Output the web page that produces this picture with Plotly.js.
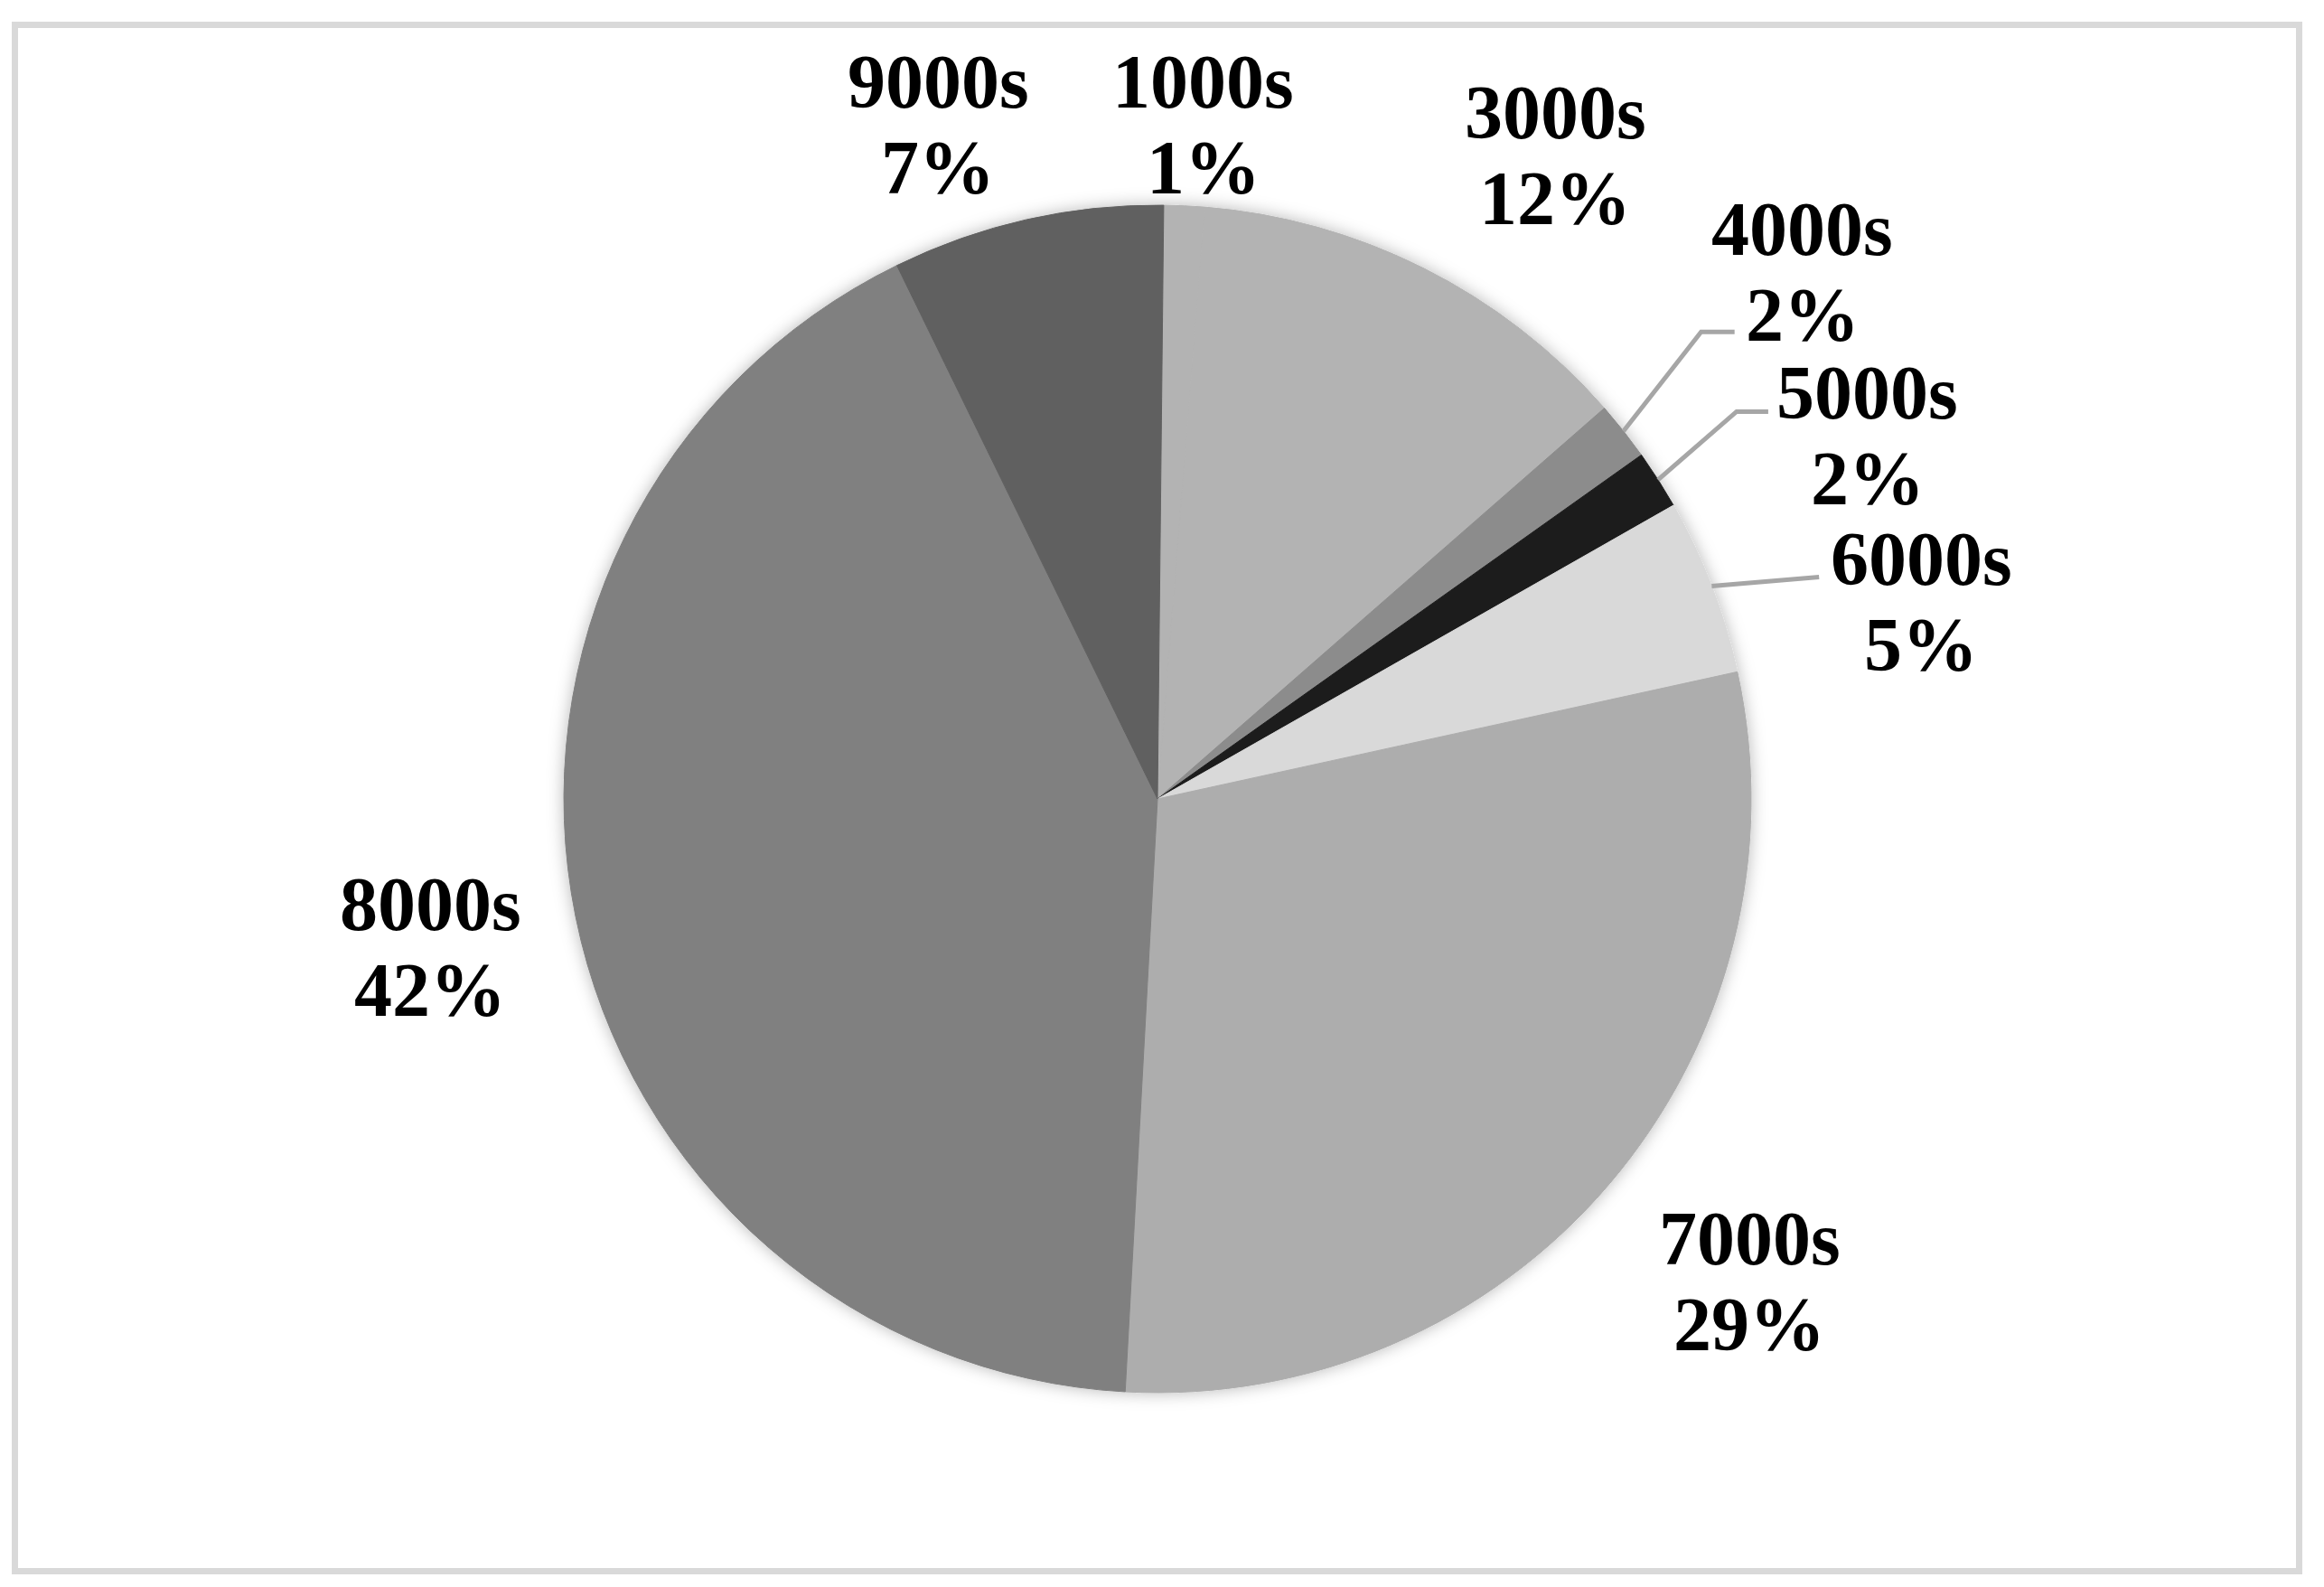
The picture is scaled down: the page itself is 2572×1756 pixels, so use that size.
<!DOCTYPE html>
<html>
<head>
<meta charset="utf-8">
<script src="https://cdn.plot.ly/plotly-3.0.1.min.js"></script>
<style>
  html, body { margin: 0; padding: 0; background: #fff; }
  #chart { width: 2572px; height: 1756px; }
</style>
</head>
<body>
<div id="chart"></div>
<script>
// data (share of total, %)
const categories = ['1000s', '3000s', '4000s', '5000s', '6000s', '7000s', '8000s', '9000s'];
const shares = [1.1, 12.3, 1.6, 1.6, 4.8, 29.3, 41.9, 7.4];

// styling
const sliceColors = ['#b3b3b3', '#b3b3b3', '#8c8c8c', '#1c1c1c', '#d9d9d9', '#adadad', '#808080', '#606060'];
const labelDist = [748, 838, 922, 883, 873, 845, 821, 785];   // px from centre
const labelNudge = [1.3, 5.0, -1.0, 5.4, 6.5, -1.2, 0, -5.3]; // deg off slice middle
const leaderIdx = [2, 3, 4];
const leaderBend = [[-112, 67], [-145, -26], [-113, -27]];    // elbow relative to label
const leaderEnd = [[-75, 67], [-110, -26], [-113, -27]];

const W = 2572, H = 1756;
const cx = 1281, cy = 884, R = 657;
const startDeg = 0.6;
const fontSize = 84;

// Centre and radius to pie domain
const dom = {
  x: [(cx - R) / W, (cx + R) / W],
  y: [1 - (cy + R) / H, 1 - (cy - R) / H]
};

function px(x) { return x / W; }
function py(y) { return 1 - y / H; }

const total = shares.reduce((a, b) => a + b, 0);
const midDeg = [];
let acc = 0;
for (let k = 0; k < shares.length; k++) {
  midDeg.push(startDeg + (acc + shares[k] / 2) / total * 360);
  acc += shares[k];
}
function polar(deg, r) {
  const a = deg * Math.PI / 180;
  return [cx + r * Math.sin(a), cy - r * Math.cos(a)];
}

const annotations = [];
const labelPos = [];
for (let k = 0; k < categories.length; k++) {
  const p = polar(midDeg[k] + labelNudge[k], labelDist[k]);
  labelPos.push(p);
  const pct = Math.round(shares[k] / total * 100) + '%';
  [[categories[k], 47], [pct, -48]].forEach(function (t) {
    annotations.push({
      text: '<b>' + t[0] + '</b>', x: px(p[0]), y: py(p[1]), xref: 'paper', yref: 'paper',
      xanchor: 'center', yanchor: 'middle', yshift: t[1], showarrow: false,
      font: { family: 'Liberation Serif, Times New Roman, serif', size: fontSize, color: '#000' }
    });
  });
}

const shapes = [{
  type: 'rect', xref: 'paper', yref: 'paper',
  x0: px(16.5), x1: px(2544.5), y0: py(1738.5), y1: py(27.5),
  line: { color: '#d9d9d9', width: 7 }
}];
leaderIdx.forEach(function (k, j) {
  const s = polar(midDeg[k], R);
  const lp = labelPos[k];
  const b = [lp[0] + leaderBend[j][0], lp[1] + leaderBend[j][1]];
  const e = [lp[0] + leaderEnd[j][0], lp[1] + leaderEnd[j][1]];
  shapes.push({
    type: 'path', xref: 'paper', yref: 'paper',
    path: 'M' + px(s[0]) + ',' + py(s[1]) + ' L' + px(b[0]) + ',' + py(b[1]) + ' L' + px(e[0]) + ',' + py(e[1]),
    line: { color: '#a6a6a6', width: 5 }
  });
});

const data = [{
  type: 'pie',
  labels: categories,
  values: shares,
  sort: false,
  direction: 'clockwise',
  rotation: startDeg,
  textinfo: 'none',
  hoverinfo: 'none',
  showlegend: false,
  domain: dom,
  marker: { colors: sliceColors, line: { color: sliceColors, width: 1 } }
}];

const layout = {
  width: W, height: H,
  margin: { l: 0, r: 0, t: 0, b: 0 },
  paper_bgcolor: '#fff',
  plot_bgcolor: '#fff',
  showlegend: false,
  annotations: annotations,
  shapes: shapes
};

Plotly.newPlot('chart', data, layout, { staticPlot: true }).then(function (gd) {
  // soft glow round the pie, like the Office shadow
  const ns = 'http://www.w3.org/2000/svg';
  const svg = gd.querySelector('.main-svg');
  let defs = svg.querySelector('defs');
  if (!defs) { defs = document.createElementNS(ns, 'defs'); svg.insertBefore(defs, svg.firstChild); }
  const f = document.createElementNS(ns, 'filter');
  f.setAttribute('id', 'pieShadow');
  f.setAttribute('x', '-10%'); f.setAttribute('y', '-10%');
  f.setAttribute('width', '120%'); f.setAttribute('height', '120%');
  f.innerHTML = '<feGaussianBlur in="SourceAlpha" stdDeviation="9" result="blur"/>' +
    '<feFlood flood-color="#000" flood-opacity="0.28"/>' +
    '<feComposite in2="blur" operator="in"/>' +
    '<feMerge><feMergeNode/><feMergeNode in="SourceGraphic"/></feMerge>';
  defs.appendChild(f);
  const pl = gd.querySelector('.pielayer');
  if (pl) pl.setAttribute('filter', 'url(#pieShadow)');
});
</script>
</body>
</html>
